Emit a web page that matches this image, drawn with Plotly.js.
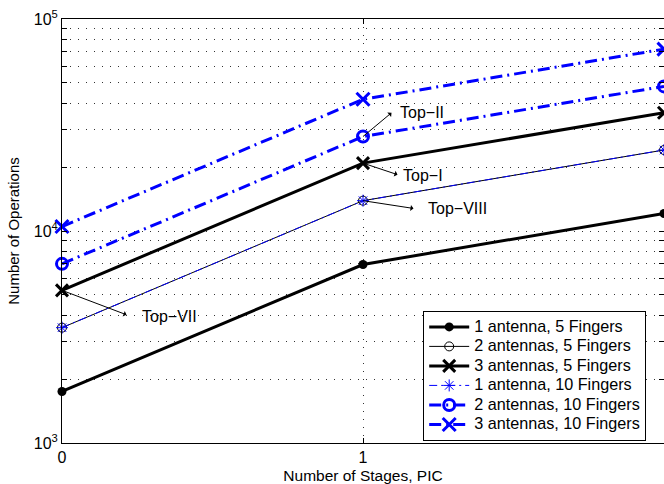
<!DOCTYPE html>
<html>
<head>
<meta charset="utf-8">
<script src="https://cdn.plot.ly/plotly-3.0.1.min.js"></script>
<style>html,body{margin:0;padding:0;background:#fff;}#chart{width:664px;height:484px;}</style>
</head>
<body>
<div id="chart"></div>
<script>
// Data
const stages = [0, 1, 2];
const ant1_f5  = [1750, 6950, 12100];
const ant2_f5  = [3500, 13900, 24100];
const ant3_f5  = [5250, 20900, 36100];
const ant1_f10 = [3500, 13900, 24100];
const ant2_f10 = [7000, 27900, 48100];
const ant3_f10 = [10500, 41800, 72100];
const seriesNames = [
  "1 antenna, 5 Fingers", "2 antennas, 5 Fingers", "3 antennas, 5 Fingers",
  "1 antenna, 10 Fingers", "2 antennas, 10 Fingers", "3 antennas, 10 Fingers"
];
const xTicks = [0, 1, 2];
const xTickText = ["0", "1", "2"];
const yTickVals = [1000,2000,3000,4000,5000,6000,7000,8000,9000,
                   10000,20000,30000,40000,50000,60000,70000,80000,90000,100000];
const yTickText = yTickVals.map(v => v === 1000 ? "10<sup>3</sup>" : v === 10000 ? "10<sup>4</sup>" : v === 100000 ? "10<sup>5</sup>" : "");

const FONT = '"Liberation Sans", Arial, Helvetica, sans-serif';
const dashdot = "12px,5px,2px,5px";
const legName = n => '<span style="font-size:16.2px">' + n + '</span>';

const traces = [
  {x: stages, y: ant1_f5, name: legName(seriesNames[0]), mode: "lines+markers",
   line: {color: "black", width: 3}, marker: {symbol: "circle", size: 9, color: "black"}},
  {x: stages, y: ant2_f5, name: legName(seriesNames[1]), mode: "lines+markers",
   line: {color: "black", width: 1}, marker: {symbol: "circle-open", size: 9, color: "black", line: {width: 1}}},
  {x: stages, y: ant3_f5, name: legName(seriesNames[2]), mode: "lines+markers",
   line: {color: "black", width: 3}, marker: {symbol: "x-thin-open", size: 12, color: "black", line: {width: 3, color: "black"}}},
  {x: stages, y: ant1_f10, name: legName(seriesNames[3]), mode: "lines+markers",
   line: {color: "blue", width: 1, dash: "8px,4px,2px,4px"}, marker: {symbol: "asterisk-open", size: 10, color: "blue", line: {width: 1, color: "blue"}}},
  {x: stages, y: ant2_f10, name: legName(seriesNames[4]), mode: "lines+markers",
   line: {color: "blue", width: 3, dash: dashdot}, marker: {symbol: "circle-open", size: 11, color: "blue", line: {width: 3, color: "blue"}}},
  {x: stages, y: ant3_f10, name: legName(seriesNames[5]), mode: "lines+markers",
   line: {color: "blue", width: 3, dash: dashdot}, marker: {symbol: "x-thin-open", size: 13, color: "blue", line: {width: 3, color: "blue"}}}
].map(t => Object.assign(t, {type: "scatter", cliponaxis: false}));

// annotation y on a log axis is given in log10 units
function arrow(xv, yv, ax, ay) {
  return {x: xv, y: Math.log10(yv), xref: "x", yref: "y", text: "", showarrow: true,
          ax: ax, ay: ay, arrowside: "start", arrowhead: 2, arrowsize: 4,
          arrowwidth: 1, arrowcolor: "black", standoff: 0, startstandoff: 0};
}
function label(xv, yv, txt, xs, ys) {
  return {x: xv, y: Math.log10(yv), xref: "x", yref: "y", text: txt, showarrow: false,
          xanchor: "left", yanchor: "middle", xshift: xs, yshift: ys,
          font: {family: FONT, size: 16, color: "black"}};
}

const annotations = [
  arrow(1, ant2_f10[1], 30, -25), label(1, ant2_f10[1], "Top\u2212II", 35, 24),
  arrow(1, ant3_f5[1], 36, 12),   label(1, ant3_f5[1], "Top\u2212I", 38, -12),
  arrow(1, ant2_f5[1], 52, 8),    label(1, ant2_f5[1], "Top\u2212VIII", 63, -8),
  arrow(0, ant3_f5[0], 66, 25),   label(0, ant3_f5[0], "Top\u2212VII", 78, -26)
];

const gridDash = "1px,7px";
const layout = {
  width: 664, height: 484,
  margin: {l: 62, r: 0, t: 19, b: 41, pad: 0},
  paper_bgcolor: "white", plot_bgcolor: "white",
  font: {family: FONT, size: 16, color: "black"},
  showlegend: true,
  legend: {x: 0.6, y: 0.311, xanchor: "left", yanchor: "top",
           bgcolor: "white", bordercolor: "black", borderwidth: 1,
           font: {family: FONT, size: 12.7, color: "black"},
           tracegroupgap: 0, itemwidth: 40},
  xaxis: {
    range: [0, 2], tickmode: "array", tickvals: xTicks, ticktext: xTickText,
    showline: true, linecolor: "black", linewidth: 1, mirror: "ticks",
    ticks: "inside", ticklen: 5, tickcolor: "black",
    showgrid: true, gridcolor: "#333", gridwidth: 1, griddash: gridDash,
    zeroline: false, tickfont: {family: FONT, size: 16},
    title: {text: "Number of Stages, PIC", font: {family: FONT, size: 15.5}, standoff: 7}
  },
  yaxis: {
    type: "log", range: [3, 5], tickmode: "array", tickvals: yTickVals, ticktext: yTickText,
    showline: true, linecolor: "black", linewidth: 1, mirror: "ticks",
    ticks: "inside", ticklen: 5, tickcolor: "black",
    showgrid: true, gridcolor: "#333", gridwidth: 1, griddash: gridDash,
    zeroline: false, tickfont: {family: FONT, size: 16},
    title: {text: "Number of Operations", font: {family: FONT, size: 15}, standoff: 10}
  },
  annotations: annotations
};

Plotly.newPlot("chart", traces, layout, {staticPlot: true, displayModeBar: false});
</script>
</body>
</html>
